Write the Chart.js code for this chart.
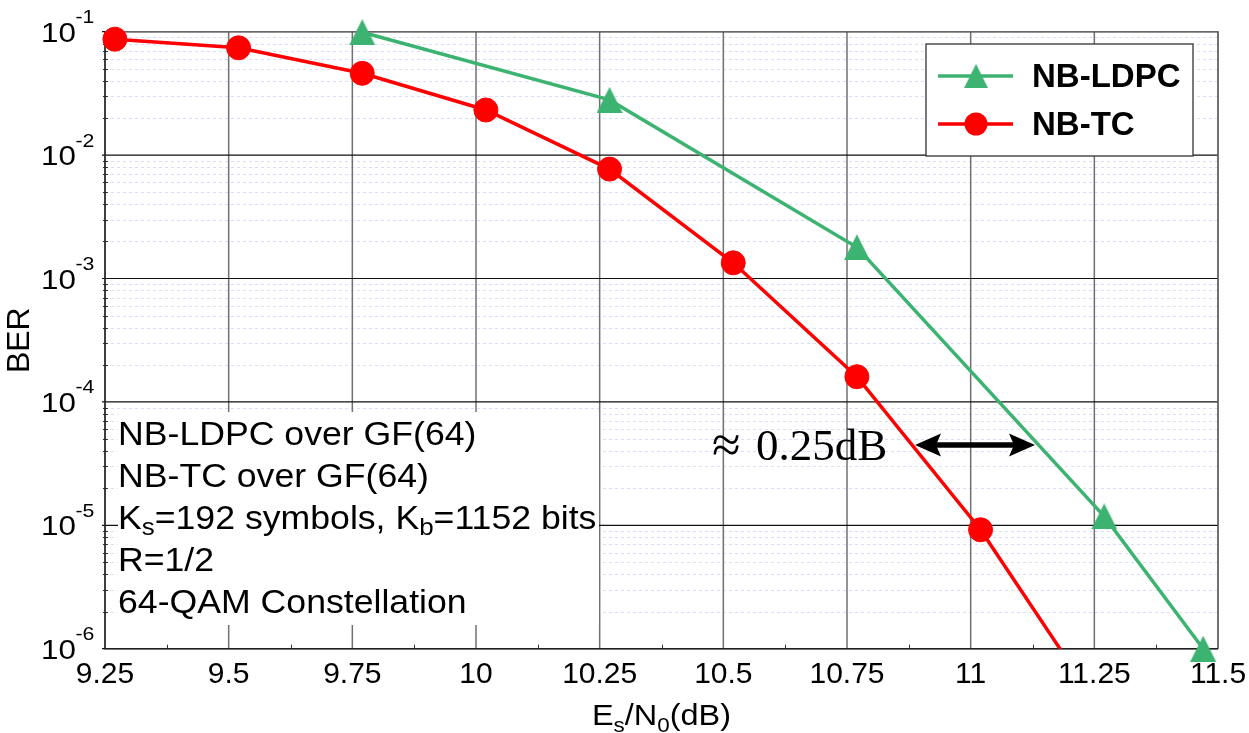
<!DOCTYPE html>
<html><head><meta charset="utf-8">
<script src="https://cdn.jsdelivr.net/npm/chart.js@4.4.0/dist/chart.umd.min.js"></script>
<style>html,body{margin:0;padding:0;background:#fff;}#wrap{width:1249px;height:733px;position:relative;}</style>
</head><body><div id="wrap"><canvas id="c" width="1249" height="733"></canvas></div>
<script>
// ---------- data ----------
const xTickValues = [9.25, 9.5, 9.75, 10, 10.25, 10.5, 10.75, 11, 11.25, 11.5];
const xTickLabels = ['9.25', '9.5', '9.75', '10', '10.25', '10.5', '10.75', '11', '11.25', '11.5'];
const yTickExponents = [-1, -2, -3, -4, -5, -6];
const seriesNames = ['NB-LDPC', 'NB-TC'];
const ldpcEsN0 = [9.77, 10.27, 10.77, 11.27, 11.47];
const ldpcBER = [0.099, 0.028, 0.00179, 1.18e-5, 1.0e-6];
const tcEsN0 = [9.27, 9.52, 9.77, 10.02, 10.27, 10.52, 10.77, 11.02, 11.27];
const tcBER = [0.087, 0.074, 0.046, 0.0232, 0.0077, 0.00134, 1.6e-4, 9.2e-6, 2.9e-7];
const yAxisTitle = 'BER';
const xAxisTitle = [['E', 0], ['s', 1], ['/N', 0], ['0', 1], ['(dB)', 0]];
const infoLines = [
  [['NB-LDPC over GF(64)', 0]],
  [['NB-TC over GF(64)', 0]],
  [['K', 0], ['s', 1], ['=192 symbols, K', 0], ['b', 1], ['=1152 bits', 0]],
  [['R=1/2', 0]],
  [['64-QAM Constellation', 0]]
];
const gapSymbol = '\u2248';
const gapText = '0.25dB';

// ---------- styling ----------
const SANS = '"Liberation Sans", Arial, Helvetica, sans-serif';
const SERIF = '"Liberation Serif", "DejaVu Serif", serif';
const GREEN = '#3cb371', RED = '#ff0000';
Chart.defaults.font.family = SANS;

function makeTri(w, h, color) {
  const c = document.createElement('canvas');
  c.width = w; c.height = h;
  const g = c.getContext('2d');
  g.fillStyle = color;
  g.beginPath(); g.moveTo(w / 2, 0); g.lineTo(w, h); g.lineTo(0, h); g.closePath(); g.fill();
  return c;
}
const triMarker = makeTri(26, 26, GREEN);

function drawRich(ctx, segs, x, y, o) {
  ctx.save();
  ctx.translate(x, y); ctx.scale(o.sx, 1);
  ctx.textAlign = 'left'; ctx.textBaseline = 'alphabetic'; ctx.fillStyle = '#000';
  let cx = 0;
  for (const [t, sub] of segs) {
    ctx.font = (o.weight || '') + ' ' + (sub ? o.subSize : o.size) + 'px ' + o.family;
    ctx.fillText(t, cx, sub ? o.subDy : 0);
    cx += ctx.measureText(t).width;
  }
  ctx.restore();
  return cx * o.sx;
}
function richWidth(ctx, segs, o) {
  let w = 0;
  for (const [t, sub] of segs) {
    ctx.font = (o.weight || '') + ' ' + (sub ? o.subSize : o.size) + 'px ' + o.family;
    w += ctx.measureText(t).width;
  }
  return w * o.sx;
}

const decorPlugin = {
  id: 'decor',
  beforeDatasetsDraw(chart) {
    const ctx = chart.ctx, a = chart.chartArea, xs = chart.scales.x, ys = chart.scales.y;
    ctx.save();
    // minor horizontal grid
    ctx.strokeStyle = '#dcdcf5'; ctx.lineWidth = 1; ctx.setLineDash([3, 3]);
    for (let e = -6; e < -1; e++) {
      for (let m = 2; m <= 9; m++) {
        const y = Math.round(ys.getPixelForValue(m * Math.pow(10, e))) + 0.5;
        ctx.beginPath(); ctx.moveTo(a.left, y); ctx.lineTo(a.right, y); ctx.stroke();
      }
    }
    ctx.setLineDash([]);
    // major vertical grid
    ctx.strokeStyle = '#707070'; ctx.lineWidth = 1.5;
    xTickValues.forEach(v => {
      const x = xs.getPixelForValue(v);
      ctx.beginPath(); ctx.moveTo(x, a.top); ctx.lineTo(x, a.bottom); ctx.stroke();
    });
    // major horizontal grid
    ctx.strokeStyle = '#111'; ctx.lineWidth = 1.2;
    yTickExponents.forEach(e => {
      const y = ys.getPixelForValue(Math.pow(10, e));
      ctx.beginPath(); ctx.moveTo(a.left - 3, y); ctx.lineTo(a.right, y); ctx.stroke();
    });
    // minor ticks
    ctx.strokeStyle = '#333'; ctx.lineWidth = 1;
    for (let e = -6; e < -1; e++) {
      for (let m = 2; m <= 9; m++) {
        const y = Math.round(ys.getPixelForValue(m * Math.pow(10, e))) + 0.5;
        ctx.beginPath(); ctx.moveTo(a.left - 2, y); ctx.lineTo(a.left + 3, y); ctx.stroke();
      }
    }
    for (let i = 0; i < xTickValues.length - 1; i++) {
      const x = Math.round(xs.getPixelForValue((xTickValues[i] + xTickValues[i + 1]) / 2)) + 0.5;
      ctx.beginPath(); ctx.moveTo(x, a.bottom); ctx.lineTo(x, a.bottom - 4); ctx.stroke();
    }
    // frame
    ctx.lineWidth = 1.5;
    ctx.strokeStyle = '#666';
    ctx.beginPath(); ctx.moveTo(a.left, a.top); ctx.lineTo(a.right, a.top); ctx.lineTo(a.right, a.bottom); ctx.stroke();
    ctx.strokeStyle = '#222';
    ctx.beginPath(); ctx.moveTo(a.left, a.top); ctx.lineTo(a.left, a.bottom); ctx.lineTo(a.right, a.bottom); ctx.stroke();
    // info box
    ctx.fillStyle = '#fff';
    ctx.fillRect(118, 412, 481, 213);
    const o = { size: 33, subSize: 24, subDy: 6, sx: 1.08, family: SANS };
    infoLines.forEach((segs, i) => drawRich(ctx, segs, 118, 445 + i * 42.1, o));
    ctx.restore();
  },
  afterDraw(chart) {
    const ctx = chart.ctx, a = chart.chartArea, xs = chart.scales.x, ys = chart.scales.y;
    ctx.save();
    // y tick labels 10^e
    yTickExponents.forEach(e => {
      const y = ys.getPixelForValue(Math.pow(10, e));
      ctx.save(); ctx.translate(76, y + 10); ctx.scale(1.12, 1);
      ctx.fillStyle = '#000'; ctx.textAlign = 'right'; ctx.textBaseline = 'alphabetic';
      ctx.font = '28px ' + SANS; ctx.fillText('10', 0, 0); ctx.restore();
      ctx.save(); ctx.translate(75.5, y - 8.5); ctx.scale(1.12, 1);
      ctx.fillStyle = '#000'; ctx.textAlign = 'left'; ctx.textBaseline = 'alphabetic';
      ctx.font = '19px ' + SANS; ctx.fillText(String(e), 0, 0); ctx.restore();
    });
    // x axis title
    const to = { size: 29, subSize: 20, subDy: 6.5, sx: 1.12, family: SANS };
    const tw = richWidth(ctx, xAxisTitle, to);
    drawRich(ctx, xAxisTitle, (a.left + a.right) / 2 - tw / 2, 725, to);
    // legend
    ctx.fillStyle = '#fff'; ctx.fillRect(926, 44, 267, 112);
    ctx.strokeStyle = '#333'; ctx.lineWidth = 1.3; ctx.strokeRect(926, 44, 267, 112);
    const rows = [76, 124];
    chart.data.datasets.forEach((ds, i) => {
      const y = rows[i];
      ctx.strokeStyle = ds.borderColor; ctx.lineWidth = ds.borderWidth;
      ctx.beginPath(); ctx.moveTo(938, y); ctx.lineTo(1013, y); ctx.stroke();
      if (ds.pointStyle === 'circle') {
        ctx.fillStyle = ds.pointBackgroundColor;
        ctx.beginPath(); ctx.arc(976, y, 11.5, 0, Math.PI * 2); ctx.fill();
      } else {
        ctx.drawImage(ds.pointStyle, 976 - 12, y - 12, 24, 24);
      }
      ctx.fillStyle = '#000'; ctx.font = 'bold 33px ' + SANS;
      ctx.textAlign = 'left'; ctx.textBaseline = 'alphabetic';
      ctx.fillText(ds.label, 1032, y + 11);
    });
    // annotation
    ctx.fillStyle = '#000'; ctx.textAlign = 'left'; ctx.textBaseline = 'alphabetic';
    ctx.font = '52px ' + SERIF;
    ctx.fillText(gapSymbol, 712, 462);
    ctx.font = '45px ' + SERIF;
    ctx.fillText(gapText, 756, 460);
    // double arrow
    const ay = 445, x1 = 915, x2 = 1035;
    ctx.strokeStyle = '#000'; ctx.lineWidth = 5.5;
    ctx.beginPath(); ctx.moveTo(x1 + 20, ay); ctx.lineTo(x2 - 20, ay); ctx.stroke();
    ctx.beginPath();
    ctx.moveTo(x1, ay); ctx.lineTo(x1 + 26, ay - 11.5); ctx.lineTo(x1 + 21, ay); ctx.lineTo(x1 + 26, ay + 11.5); ctx.closePath();
    ctx.moveTo(x2, ay); ctx.lineTo(x2 - 26, ay - 11.5); ctx.lineTo(x2 - 21, ay); ctx.lineTo(x2 - 26, ay + 11.5); ctx.closePath();
    ctx.fill();
    ctx.restore();
  }
};

new Chart(document.getElementById('c'), {
  type: 'line',
  data: {
    datasets: [
      {
        label: seriesNames[0],
        data: ldpcEsN0.map((x, i) => ({ x: x, y: ldpcBER[i] })),
        borderColor: GREEN, backgroundColor: GREEN, borderWidth: 3.5,
        pointStyle: triMarker, pointRadius: 13, pointBackgroundColor: GREEN, pointBorderWidth: 0,
        tension: 0, clip: false
      },
      {
        label: seriesNames[1],
        data: tcEsN0.map((x, i) => ({ x: x, y: tcBER[i] })),
        borderColor: RED, backgroundColor: RED, borderWidth: 3.5,
        pointStyle: 'circle', pointRadius: 12, pointBackgroundColor: RED, pointBorderColor: RED, pointBorderWidth: 1,
        tension: 0, clip: { left: 30, top: 30, right: 0, bottom: 0 }
      }
    ]
  },
  options: {
    responsive: false, animation: false, events: [],
    devicePixelRatio: 1,
    layout: { padding: { top: 31.7, right: 31, left: 0, bottom: 0 } },
    plugins: { legend: { display: false }, tooltip: { enabled: false } },
    scales: {
      x: {
        type: 'linear', min: 9.25, max: 11.5,
        grid: { display: false, drawTicks: false }, border: { display: false },
        afterBuildTicks: s => { s.ticks = xTickValues.map(v => ({ value: v })); },
        afterFit: s => { s.height = 84.3; s.paddingRight = 0; s.paddingLeft = 0; },
        ticks: {
          autoSkip: false, maxRotation: 0, padding: 8, color: '#000',
          font: { size: 30, family: SANS },
          callback: v => { const i = xTickValues.findIndex(t => Math.abs(t - v) < 1e-6); return i >= 0 ? xTickLabels[i] : ''; }
        }
      },
      y: {
        type: 'logarithmic', min: 1e-6, max: 1e-1,
        grid: { display: false, drawTicks: false }, border: { display: false },
        afterBuildTicks: s => { s.ticks = yTickExponents.map(e => ({ value: Math.pow(10, e) })); },
        afterFit: s => { s.width = 105; },
        ticks: { display: false },
        title: { display: true, text: yAxisTitle, color: '#000', font: { size: 32, family: SANS }, padding: { top: 1, bottom: 0 } }
      }
    }
  },
  plugins: [decorPlugin]
});
</script></body></html>
